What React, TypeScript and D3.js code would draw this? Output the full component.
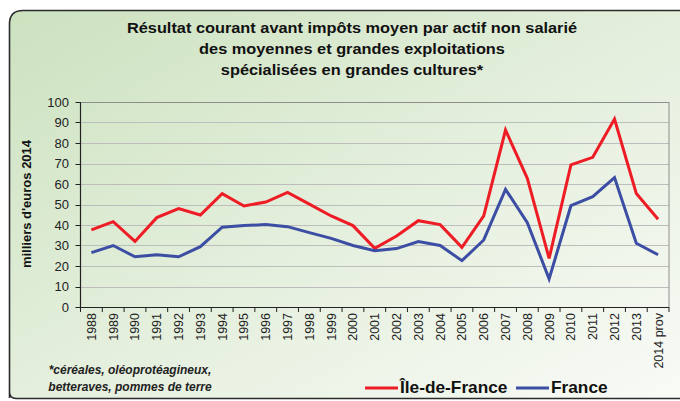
import React from "react";
import * as d3 from "d3";

const years = ["1988","1989","1990","1991","1992","1993","1994","1995","1996","1997","1998","1999","2000","2001","2002","2003","2004","2005","2006","2007","2008","2009","2010","2011","2012","2013","2014 prov"];
const ileDeFrance = [37.6,41.6,32,43.6,48,44.9,55.3,49.3,51.2,55.9,50.2,44.4,39.7,28.6,34.6,42.1,40.2,29.1,44.4,86.3,62.8,23.7,69.3,73,91.7,55.4,42.8];
const france = [26.5,30,24.5,25.5,24.5,29.4,38.9,39.7,40.2,39.2,36.3,33.5,30,27.5,28.5,31.9,30,22.6,32.7,57.4,41.1,13.7,49.4,53.8,63.1,31.1,25.5];
const yTicks = [0,10,20,30,40,50,60,70,80,90,100];
const titleLines = ["Résultat courant avant impôts moyen par actif non salarié","des moyennes et grandes exploitations","spécialisées en grandes cultures*"];
const footnote = ["*céréales, oléoprotéagineux,","betteraves, pommes de terre"];
const seriesNames = ["Île-de-France","France"];
const seriesColors = ["#ee1c25","#3c4ea3"];

export default function App() {
  const W = 680, H = 401;
  const left = 80.5, right = 669, top = 102, bottom = 307;
  const x = d3.scaleBand<string>().domain(years).range([left, right]);
  const y = d3.scaleLinear().domain([0, 100]).range([bottom, top]);
  const cx = (d: string) => (x(d) as number) + x.bandwidth() / 2;
  const line = d3.line<number>().x((_, i) => cx(years[i])).y(v => y(v));
  const font = "'Liberation Sans', Arial, sans-serif";
  const panel = `M9.5,${398} L9.5,24 Q9.5,10.5 23,10.5 L690,10.5 L690,398.5 L16,398.5 Q9.5,398.5 9.5,392 Z`;
  return (
    <svg width={W} height={H} style={{ position: "absolute", left: 0, top: 0, display: "block" }} fontFamily={font}>
      <defs>
        <linearGradient id="bg" x1="0" y1="0" x2="1" y2="1">
          <stop offset="0" stopColor="#cce2bf" />
          <stop offset="0.55" stopColor="#e6f0df" />
          <stop offset="1" stopColor="#f9fbf7" />
        </linearGradient>
      </defs>
      <rect x={0} y={0} width={W} height={H} fill="#fff" />
      <path d={panel} fill="url(#bg)" stroke="#2b2b2b" strokeWidth={1.6} />
      {titleLines.map((t, i) => (
        <text key={i} transform={`translate(352,${33 + i * 21}) scale(1.09,1)`} textAnchor="middle" fontSize={15} fontWeight="bold" fill="#111">{t}</text>
      ))}
      {yTicks.map(t => (
        <g key={t}>
          {t > 0 && <line x1={left} x2={right} y1={Math.round(y(t)) + 0.5} y2={Math.round(y(t)) + 0.5} stroke={t === 100 ? "#8e8e8e" : "#bdbdbd"} strokeWidth={1} />}
          <line x1={left - 5} x2={left} y1={Math.round(y(t)) + 0.5} y2={Math.round(y(t)) + 0.5} stroke="#222" />
          <text x={69} y={y(t) + 4.5} textAnchor="end" fontSize={13} fill="#222">{t}</text>
        </g>
      ))}
      <line x1={right} x2={right} y1={top} y2={bottom} stroke="#8e8e8e" />
      <line x1={left} x2={left} y1={top} y2={bottom + 0.5} stroke="#222" strokeWidth={1.2} />
      <line x1={left} x2={right} y1={bottom + 0.5} y2={bottom + 0.5} stroke="#222" strokeWidth={1.2} />
      {years.map((d, i) => (
        <line key={"t" + i} x1={(x(d) as number)} x2={(x(d) as number)} y1={bottom} y2={bottom + 5} stroke="#222" />
      ))}
      <line x1={right} x2={right} y1={bottom} y2={bottom + 5} stroke="#222" />
      {years.map(d => (
        <text key={d} transform={`translate(${cx(d) + 4.5},${313}) rotate(-90)`} textAnchor="end" fontSize={12.5} fill="#222">{d}</text>
      ))}
      <text transform={`translate(31,204) rotate(-90)`} textAnchor="middle" fontSize={13} fontWeight="bold" fill="#111">milliers d'euros 2014</text>
      <path d={line(ileDeFrance) as string} fill="none" stroke={seriesColors[0]} strokeWidth={3} strokeLinejoin="miter" />
      <path d={line(france) as string} fill="none" stroke={seriesColors[1]} strokeWidth={3} strokeLinejoin="miter" />
      {footnote.map((t, i) => (
        <text key={i} x={130} y={374 + i * 17} textAnchor="middle" fontSize={12} fontWeight="bold" fontStyle="italic" fill="#222">{t}</text>
      ))}
      <line x1={365} x2={398} y1={388} y2={388} stroke={seriesColors[0]} strokeWidth={3} />
      <text transform="translate(400,393) scale(1.08,1)" fontSize={16} fontWeight="bold" fill="#111">{seriesNames[0]}</text>
      <line x1={516} x2={549} y1={388} y2={388} stroke={seriesColors[1]} strokeWidth={3} />
      <text transform="translate(551,393) scale(1.08,1)" fontSize={16} fontWeight="bold" fill="#111">{seriesNames[1]}</text>
    </svg>
  );
}
